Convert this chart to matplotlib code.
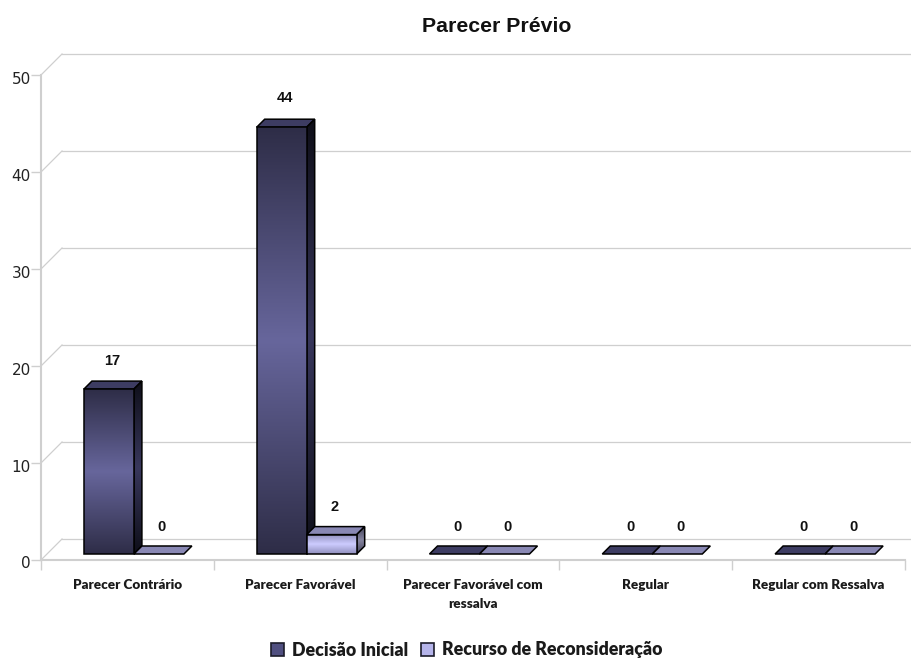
import numpy as np
import matplotlib
matplotlib.use('Agg')
import matplotlib.pyplot as plt
from matplotlib.colors import LinearSegmentedColormap
from matplotlib.patches import Patch, Polygon
from matplotlib.transforms import Affine2D, IdentityTransform

categories = ['Parecer Contrário', 'Parecer Favorável', 'Parecer Favorável com\nressalva',
              'Regular', 'Regular com Ressalva']
series_names = ['Decisão Inicial', 'Recurso de Reconsideração']
decisao_inicial = [17, 44, 0, 0, 0]
recurso = [0, 2, 0, 0, 0]
y_ticks = [0, 10, 20, 30, 40, 50]

GRID = '#cfcfcf'
WALL = 21      # depth of the back wall, px
SHIFT = (6.5, 6)  # bars sit a little behind the front edge
DEPTH = 8      # bar depth, px
BAR_W = 50 / 172.8

W, H = 912, 659
fig = plt.figure(figsize=(W / 100, H / 100), dpi=100)
ax = fig.add_axes([41 / W, (H - 560) / H, 864 / W, 485 / H])
ax.set_xlim(0, 5)
ax.set_ylim(0, 50)
ax.set_autoscale_on(False)

back = ax.transData + Affine2D().translate(WALL, WALL)
plane = ax.transData + Affine2D().translate(*SHIFT)
px = IdentityTransform()


def shade(c_end, c_mid):
    return LinearSegmentedColormap.from_list('s', [c_end, c_mid, c_end])


dark_front = shade('#2e2d47', '#67669c')
dark_side = shade('#0e0e18', '#38375c')
light_front = shade('#8f8ebc', '#cdccff')
light_side = shade('#45445c', '#85849f')
ramp = np.linspace(0, 1, 256).reshape(-1, 1)
z = [3]


def gradient(points, cmap):
    z[0] += 1
    poly = Polygon(points, closed=True, transform=px, facecolor='none', edgecolor='black',
                   linewidth=1.1, zorder=z[0] + 0.5, clip_on=False)
    ax.add_patch(poly)
    xs, ys = zip(*points)
    im = ax.imshow(ramp, cmap=cmap, origin='lower', aspect='auto', transform=px, zorder=z[0],
                   extent=(min(xs), max(xs), min(ys), max(ys)), vmin=0, vmax=1)
    im.set_clip_path(poly)


def bar3d(x0, value, front, side, top):
    (l, b), (r, t) = plane.transform([(x0, 0), (x0 + BAR_W, value)])
    z[0] += 1
    top_face = [(l, t), (r, t), (r + DEPTH, t + DEPTH), (l + DEPTH, t + DEPTH)]
    ax.add_patch(Polygon(top_face, closed=True, transform=px, facecolor=top, edgecolor='black',
                         linewidth=1.1, zorder=z[0], clip_on=False))
    if value > 0:
        gradient([(r, b), (r + DEPTH, b + DEPTH), (r + DEPTH, t + DEPTH), (r, t)], side)
        gradient([(l, b), (r, b), (r, t), (l, t)], front)


# walls and gridlines
for v in y_ticks:
    ax.plot([0, 5], [v, v], color=GRID, lw=0.9, transform=back, clip_on=False, zorder=1)
    p0, p1 = ax.transData.transform((0, v)), back.transform((0, v))
    ax.plot([p0[0], p1[0]], [p0[1], p1[1]], color=GRID, lw=0.9, transform=px, clip_on=False, zorder=1)

centers = np.arange(len(categories)) + 0.5
for i, c in enumerate(centers):
    bar3d(c - BAR_W, decisao_inicial[i], dark_front, dark_side, '#3d3c62')
    bar3d(c, recurso[i], light_front, light_side, '#8988b4')

# value labels
for i, c in enumerate(centers):
    for x, v in ((c - BAR_W / 2, decisao_inicial[i]), (c + BAR_W / 2, recurso[i])):
        lx, ly = plane.transform((x, v))
        ax.text(lx + 3, ly + 27 + 0.06 * v, str(v), transform=px, ha='center', va='center',
                family='Liberation Sans', weight='bold', fontsize=10.5, color='#111111', zorder=60)

for side in ('top', 'right'):
    ax.spines[side].set_visible(False)
for side in ('left', 'bottom'):
    ax.spines[side].set_color(GRID)
    ax.spines[side].set_linewidth(1.5)

ax.set_yticks(y_ticks)
ax.set_xticks(range(len(categories) + 1))
ax.set_xticklabels([])
ax.set_xticks(centers, minor=True)
ax.set_xticklabels(categories, minor=True, family='Lato', weight='heavy', fontsize=9.7, color='#1a1a1a',
                   linespacing=1.7, va='top')
ax.tick_params(axis='x', which='major', length=7, width=1, color=GRID)
ax.tick_params(axis='x', which='minor', length=0, pad=14)
ax.tick_params(axis='y', length=7, width=1, color=GRID, pad=1, labelsize=11, labelcolor='#222222')
for lab in ax.get_yticklabels():
    lab.set_transform(lab.get_transform() + Affine2D().translate(1, -2.5))

fig.text(497 / W, 1 - 27 / H, 'Parecer Prévio', ha='center', va='center',
         family='Liberation Sans', weight='bold', fontsize=15.3, color='#111111')

handles = [Patch(facecolor='#504f80', edgecolor='#1c1c2a', linewidth=1.2),
           Patch(facecolor='#b5b4ea', edgecolor='#1c1c2a', linewidth=1.2)]
fig.legend(handles, series_names, ncol=2, loc='center', bbox_to_anchor=(467 / W, 1 - 650 / H),
           frameon=False, prop={'family': 'Lato', 'weight': 'heavy', 'size': 12.8},
           handlelength=0.72, handleheight=0.72, handletextpad=0.45, columnspacing=0.75,
           labelcolor='#1a1a1a')

fig.savefig('out.png', dpi=100)
